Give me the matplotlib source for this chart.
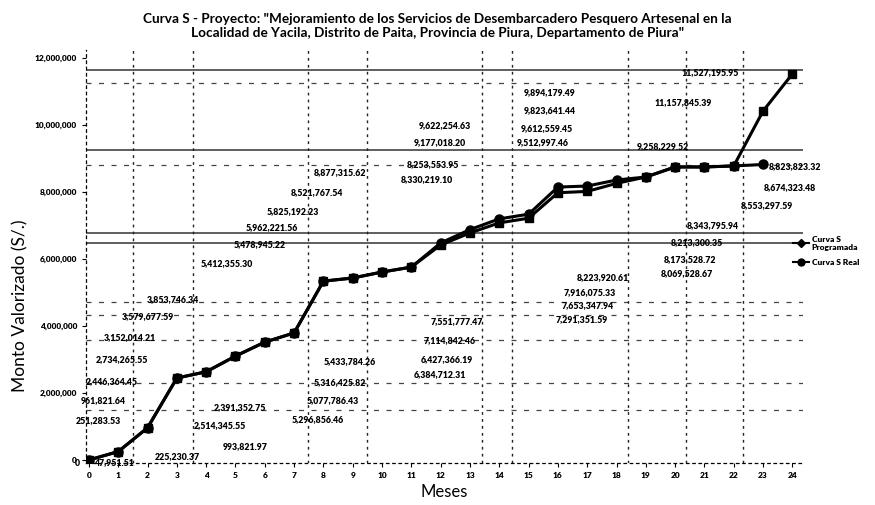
import matplotlib.pyplot as plt
from matplotlib.ticker import FuncFormatter, MultipleLocator
from matplotlib.lines import Line2D

# Curva S - valores acumulados (S/.)
meses = list(range(25))
programado = [0, 251283.53, 961821.64, 2446364.45, 2634265.55, 3102014.21,
              3519677.59, 3793746.34, 5340000.00, 5433784.26, 5612355.30,
              5760000.00, 6420000.00, 6780000.00, 7080000.00, 7220000.00,
              7980000.00, 8020000.00, 8260000.00, 8450000.00, 8750000.00,
              8750000.00, 8780000.00, 10420000.00, 11527195.95]
meses_real = list(range(24))
real = [0, 251283.53, 961821.64, 2446364.45, 2634265.55, 3102014.21,
        3519677.59, 3793746.34, 5340000.00, 5433784.26, 5612355.30,
        5760000.00, 6480000.00, 6880000.00, 7200000.00, 7340000.00,
        8150000.00, 8180000.00, 8360000.00, 8450000.00, 8750000.00,
        8750000.00, 8780000.00, 8823823.32]

serie_nombres = ["Curva S\nProgramada", "Curva S Real"]

# etiquetas de datos (texto del grafico escaneado)
etiquetas = ["3,853,746.34", "3,579,677.59", "3,152,014.21", "2,734,265.55",
             "2,446,364.45", "961,821.64", "251,283.53", "0", "47,951.51",
             "225,230.37", "2,391,352.75", "2,514,345.55", "993,821.97",
             "5,412,355.30", "5,478,945.22", "5,962,221.56", "5,825,192.23",
             "8,521,767.54", "8,877,315.62", "9,622,254.63", "9,177,018.20",
             "8,253,553.95", "8,330,219.10", "9,894,179.49", "9,823,641.44",
             "9,612,559.45", "9,512,997.46", "11,527,195.95", "11,157,845.39",
             "9,258,229.52", "8,823,823.32", "8,674,323.48", "8,553,297.59",
             "8,343,795.94", "8,213,300.35", "8,173,528.72", "8,069,528.67",
             "8,223,920.61", "7,916,075.33", "7,653,347.94", "7,291,351.59",
             "7,551,777.47", "7,114,842.46", "6,427,366.19", "6,384,712.31",
             "5,433,784.26", "5,316,425.82", "5,077,786.43", "5,296,856.46"]

# posicion de cada etiqueta (mes, millones)
pos_x = [2.87, 2.01, 1.40, 1.13, 0.78, 0.48, 0.31, -0.38, 0.85, 3.0, 5.15,
         4.47, 5.32, 4.71, 5.84, 6.25, 6.96, 7.78, 8.57, 12.15, 11.98, 11.74,
         11.54, 15.73, 15.73, 15.63, 15.49, 21.19, 20.27, 19.59, 24.1, 23.93,
         23.14, 21.3, 20.75, 20.51, 20.41, 17.54, 17.1, 17.0, 16.83, 12.56,
         12.32, 12.22, 11.98, 8.91, 8.57, 8.33, 7.82]
pos_y = [4.78, 4.27, 3.67, 2.99, 2.33, 1.79, 1.19, -0.09, -0.09, 0.09, 1.58,
         1.04, 0.39, 5.88, 6.42, 6.93, 7.43, 8.0, 8.57, 10.0, 9.49, 8.81, 8.36,
         10.96, 10.42, 9.91, 9.49, 11.58, 10.66, 9.37, 8.75, 8.15, 7.61, 7.01,
         6.48, 6.0, 5.58, 5.46, 5.01, 4.6, 4.18, 4.12, 3.58, 3.01, 2.54, 2.93,
         2.30, 1.79, 1.22]

# lineas guia del escaneo
h_solidas = [11.64, 9.25, 6.78, 6.48]
h_punteadas = [11.25, 8.8, 4.72, 4.33, 3.58, 2.3, 1.49]
v_punteadas = [1.5, 3.55, 7.47, 9.49, 13.41, 14.44, 18.4, 20.38, 22.32]

plt.rcParams['font.family'] = ['Lato', 'DejaVu Sans']

fig = plt.figure(figsize=(8.75, 5.05), dpi=100)
ax = fig.add_axes([86 / 875, 0.0825, 0.819, 0.819])

for v in h_solidas:
    ax.axhline(v * 1e6, color='#333333', lw=1.1, zorder=1)
for v in h_punteadas:
    ax.axhline(v * 1e6, color='#444444', lw=0.9, ls=(0, (4, 6)), zorder=1)
for m in v_punteadas:
    ax.axvline(m, color='#222222', lw=1.0, ls=(0, (2, 3)), zorder=1)

ax.plot(meses, programado, color='black', lw=2.2, marker='s', ms=5.5,
        label=serie_nombres[0], zorder=3)
ax.plot(meses_real, real, color='black', lw=2.2, marker='o', ms=6.5,
        label=serie_nombres[1], zorder=4)

for txt, x, y in zip(etiquetas, pos_x, pos_y):
    ax.text(x, y * 1e6, txt, fontsize=6.3, fontweight='heavy', ha='center',
            va='center', clip_on=False, zorder=5)

ax.set_xlim(-0.1, 24.35)
ax.set_ylim(-0.1e6, 12.25e6)
ax.set_xticks(meses)
ax.yaxis.set_major_locator(MultipleLocator(2e6))
ax.yaxis.set_major_formatter(FuncFormatter(lambda v, _: f"{v:,.0f}"))
ax.tick_params(axis='both', labelsize=6, length=3, width=0.8)
for lab in ax.get_xticklabels() + ax.get_yticklabels():
    lab.set_fontweight('heavy')

for s in ['top', 'right']:
    ax.spines[s].set_visible(False)
for s in ['left', 'bottom']:
    ax.spines[s].set_linestyle((0, (2, 3)))
    ax.spines[s].set_linewidth(0.9)

ax.set_xlabel("Meses", fontsize=12, labelpad=3)
fig.text(20 / 875, 1 - 306 / 505, "Monto Valorizado (S/.)", rotation=90,
         fontsize=12.5, ha='center', va='center')

fig.text(0.5, 0.975,
         'Curva S - Proyecto: "Mejoramiento de los Servicios de Desembarcadero Pesquero Artesenal en la\n'
         'Localidad de Yacila, Distrito de Paita, Provincia de Piura, Departamento de Piura"',
         fontsize=9.8, fontweight='bold', ha='center', va='top', linespacing=1.25)

handles = [Line2D([], [], color='black', lw=1.5, marker='D', ms=4),
           Line2D([], [], color='black', lw=1.5, marker='o', ms=5)]
leg = fig.legend(handles, serie_nombres, loc='upper left',
                 bbox_to_anchor=(785 / 875, 1 - 228 / 505), frameon=False,
                 fontsize=6, handlelength=2.0, handletextpad=0.3,
                 labelspacing=1.0)
for t in leg.get_texts():
    t.set_fontweight('heavy')

fig.savefig("out.png", dpi=100)
